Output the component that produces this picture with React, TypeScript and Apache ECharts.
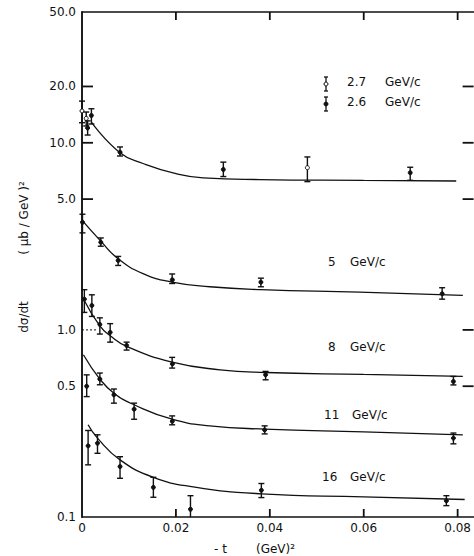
import React, { useEffect, useRef } from "react";
import * as echarts from "echarts";

// ---- axis ticks / labels ----
const xTickValues = [0, 0.02, 0.04, 0.06, 0.08];
const xTickLabels = ["0", "0.02", "0.04", "0.06", "0.08"];
const xInnerTicks = [0.02, 0.04, 0.06, 0.08];
const yTickValues = [0.1, 0.5, 1, 5, 10, 20, 50];
const yTickLabels = ["0.1", "0.5", "1.0", "5.0", "10.0", "20.0", "50.0"];
const yLeftTicks = [5, 10, 20];
const yLeftDottedTicks = [1];
const yRightTicks = [0.5, 1, 5, 10, 20];

// ---- data points: [-t, dσ/dt, low, high] ----
const pts27 = [
  [0, 14.8, 12.8, 16.7],
  [0.0009, 13.5, 12.3, 14.6],
  [0.048, 7.36, 6.2, 8.4],
];
const pts26 = [
  [0.0012, 12.0, 11.0, 13.1],
  [0.002, 14.0, 12.6, 15.2],
  [0.0081, 8.9, 8.5, 9.5],
  [0.0301, 7.2, 6.6, 7.88],
  [0.0699, 6.92, 6.3, 7.4],
];
const pts5 = [
  [0.0001, 3.76, 3.3, 4.15],
  [0.004, 2.94, 2.8, 3.1],
  [0.0077, 2.35, 2.21, 2.47],
  [0.0192, 1.87, 1.77, 1.99],
  [0.0381, 1.8, 1.7, 1.89],
  [0.0767, 1.56, 1.46, 1.68],
];
const pts8 = [
  [0.0005, 1.46, 1.24, 1.64],
  [0.0021, 1.35, 1.18, 1.54],
  [0.0038, 1.07, 0.95, 1.16],
  [0.006, 0.97, 0.86, 1.08],
  [0.0095, 0.826, 0.78, 0.86],
  [0.0192, 0.665, 0.625, 0.713],
  [0.0391, 0.576, 0.541, 0.6],
  [0.0791, 0.53, 0.508, 0.564],
];
const pts11 = [
  [0.001, 0.5, 0.44, 0.575],
  [0.0038, 0.546, 0.509, 0.588],
  [0.0068, 0.45, 0.406, 0.483],
  [0.0111, 0.377, 0.333, 0.406],
  [0.0192, 0.328, 0.311, 0.347],
  [0.0389, 0.292, 0.278, 0.307],
  [0.0791, 0.264, 0.246, 0.281],
];
const pts16 = [
  [0.0013, 0.24, 0.19, 0.29],
  [0.0033, 0.248, 0.219, 0.275],
  [0.0081, 0.186, 0.161, 0.21],
  [0.0152, 0.144, 0.1275, 0.163],
  [0.0231, 0.11, 0.092, 0.13],
  [0.0382, 0.139, 0.127, 0.151],
  [0.0776, 0.122, 0.115, 0.13],
];

// ---- fitted curves: [-t, dσ/dt] ----
const fitLow = [
  [0.002, 12.9], [0.0081, 8.85], [0.013, 7.75], [0.0194, 6.9], [0.0258, 6.5],
  [0.0379, 6.36], [0.06, 6.3], [0.0797, 6.25],
];
const fit5 = [
  [0, 3.86], [0.004, 2.98], [0.0077, 2.4], [0.013, 2.0], [0.0192, 1.8],
  [0.0272, 1.7], [0.0381, 1.64], [0.0591, 1.59], [0.0811, 1.53],
];
const fit8 = [
  [0.0004, 1.45], [0.0038, 1.05], [0.006, 0.93], [0.0095, 0.816], [0.0192, 0.673],
  [0.0294, 0.612], [0.0391, 0.592], [0.06, 0.578], [0.0811, 0.564],
];
const fit11 = [
  [0.0003, 0.736], [0.0038, 0.546], [0.0068, 0.459], [0.0111, 0.398], [0.0192, 0.333],
  [0.0272, 0.307], [0.0389, 0.295], [0.06, 0.285], [0.0811, 0.275],
];
const fit16 = [
  [0.0013, 0.311], [0.0033, 0.264], [0.0081, 0.202], [0.0152, 0.163], [0.0237, 0.145],
  [0.0382, 0.133], [0.06, 0.128], [0.0815, 0.124],
];

const INK = "#111";
const FONT = "DejaVu Sans";

function errRender(open: boolean) {
  return (params: any, api: any) => {
    const x = api.value(0);
    const c = api.coord([x, api.value(1)]);
    const lo = api.coord([x, api.value(2)]);
    const hi = api.coord([x, api.value(3)]);
    const cs = params.coordSys;
    const bottom = cs.y + cs.height;
    const yl = Math.min(lo[1], bottom);
    const cap = 3;
    const ls = { stroke: INK, lineWidth: 1.4 };
    const children: any[] = [
      { type: "line", shape: { x1: c[0], y1: hi[1], x2: c[0], y2: yl }, style: ls },
      { type: "line", shape: { x1: c[0] - cap, y1: hi[1], x2: c[0] + cap, y2: hi[1] }, style: ls },
    ];
    if (lo[1] < bottom) {
      children.push({ type: "line", shape: { x1: c[0] - cap, y1: yl, x2: c[0] + cap, y2: yl }, style: ls });
    }
    children.push({
      type: "circle",
      shape: { cx: c[0], cy: c[1], r: 2 },
      style: { fill: open ? "#fff" : INK, stroke: INK, lineWidth: 1 },
    });
    return { type: "group", children };
  };
}

function errSeries(name: string, data: number[][], open: boolean) {
  return {
    name,
    type: "custom",
    renderItem: errRender(open),
    data,
    encode: { x: 0, y: 1 },
    z: 5,
  };
}

function fitSeries(name: string, data: number[][]) {
  return {
    name,
    type: "line",
    data,
    smooth: 0.5,
    symbol: "none",
    lineStyle: { color: INK, width: 1.3 },
    z: 3,
  };
}

// tick marks drawn through the axis scales (custom series)
function yTickSeries(name: string, values: number[], side: "left" | "right", len: number, dotted = false) {
  return {
    name,
    type: "custom",
    silent: true,
    data: values.map((v) => [0.04, v]),
    encode: { x: 0, y: 1 },
    renderItem: (params: any, api: any) => {
      const cs = params.coordSys;
      const p = api.coord([api.value(0), api.value(1)]);
      const x0 = side === "left" ? cs.x : cs.x + cs.width;
      const x1 = side === "left" ? x0 + len : x0 - len;
      const style: any = { stroke: INK, lineWidth: dotted ? 1 : 1.8 };
      if (dotted) style.lineDash = [2, 2];
      return {
        type: "line",
        shape: { x1: x0, y1: p[1], x2: x1, y2: p[1] },
        style,
      };
    },
    z: 4,
  };
}

function xTickSeries(name: string, values: number[], side: "top" | "bottom", len: number) {
  return {
    name,
    type: "custom",
    silent: true,
    data: values.map((v) => [v, 1]),
    encode: { x: 0, y: 1 },
    renderItem: (params: any, api: any) => {
      const cs = params.coordSys;
      const p = api.coord([api.value(0), api.value(1)]);
      const y0 = side === "top" ? cs.y : cs.y + cs.height;
      const y1 = side === "top" ? y0 + len : y0 - len;
      return {
        type: "line",
        shape: { x1: p[0], y1: y0, x2: p[0], y2: y1 },
        style: { stroke: INK, lineWidth: 1.8 },
      };
    },
    z: 4,
  };
}

function yLabel(v: number) {
  let best = 0;
  let d = Infinity;
  for (let i = 0; i < yTickValues.length; i++) {
    const dd = Math.abs(Math.log10(yTickValues[i]) - Math.log10(v));
    if (dd < d) { d = dd; best = i; }
  }
  return yTickLabels[best];
}

function legendSymbol(x: number, y: number, open: boolean) {
  const ls = { stroke: INK, lineWidth: 1.3 };
  return {
    type: "group",
    children: [
      { type: "line", shape: { x1: x, y1: y - 7, x2: x, y2: y + 7 }, style: ls },
      { type: "line", shape: { x1: x - 2, y1: y - 7, x2: x + 2, y2: y - 7 }, style: ls },
      { type: "line", shape: { x1: x - 2, y1: y + 7, x2: x + 2, y2: y + 7 }, style: ls },
      { type: "circle", shape: { cx: x, cy: y, r: 2 }, style: { fill: open ? "#fff" : INK, stroke: INK, lineWidth: 1 } },
    ],
  };
}

function txt(x: number, y: number, text: string, extra: any = {}) {
  return {
    type: "text",
    x,
    y,
    style: { text, fill: INK, font: `12px "${FONT}"`, textVerticalAlign: "middle", ...extra },
  };
}

export default function App() {
  const ref = useRef<HTMLDivElement>(null);
  useEffect(() => {
    if (!ref.current) return;
    const chart = echarts.init(ref.current, null, { renderer: "svg" });
    const axisLine = { show: true, lineStyle: { color: INK, width: 1.5 } };
    chart.setOption({
      animation: false,
      backgroundColor: "#fff",
      grid: { left: 82, right: 0, top: 12, bottom: 39, containLabel: false },
      xAxis: [
        {
          type: "value",
          min: 0,
          max: 0.0834,
          interval: 0.02,
          position: "bottom",
          axisLine,
          axisTick: { show: false },
          axisLabel: {
            customValues: xTickValues,
            formatter: (v: number) => xTickLabels[Math.round(v / 0.02)],
            color: INK,
            fontFamily: FONT,
            fontSize: 12,
            margin: 5,
          },
          splitLine: { show: false },
        },
        {
          type: "value",
          min: 0,
          max: 0.0834,
          interval: 0.02,
          position: "top",
          axisLine,
          axisTick: { show: false },
          axisLabel: { show: false },
          splitLine: { show: false },
        },
      ],
      yAxis: [
        {
          type: "log",
          logBase: 10,
          min: 0.1,
          max: 50,
          position: "left",
          axisLine,
          axisTick: { show: false },
          axisLabel: {
            customValues: yTickValues,
            formatter: (v: number) => yLabel(v),
            color: INK,
            fontFamily: FONT,
            fontSize: 12,
            margin: 6,
          },
          splitLine: { show: false },
        },
        {
          type: "log",
          logBase: 10,
          min: 0.1,
          max: 50,
          position: "right",
          axisLine,
          axisTick: { show: false },
          axisLabel: { show: false },
          splitLine: { show: false },
        },
      ],
      series: [
        fitSeries("fit 2.6/2.7", fitLow),
        fitSeries("fit 5", fit5),
        fitSeries("fit 8", fit8),
        fitSeries("fit 11", fit11),
        fitSeries("fit 16", fit16),
        errSeries("2.7 GeV/c", pts27, true),
        errSeries("2.6 GeV/c", pts26, false),
        errSeries("5 GeV/c", pts5, false),
        errSeries("8 GeV/c", pts8, false),
        errSeries("11 GeV/c", pts11, false),
        errSeries("16 GeV/c", pts16, false),
        yTickSeries("left ticks", yLeftTicks, "left", 11),
        yTickSeries("left dotted ticks", yLeftDottedTicks, "left", 15, true),
        yTickSeries("right ticks", yRightTicks, "right", 11),
        xTickSeries("bottom ticks", xInnerTicks, "bottom", 8),
        xTickSeries("top ticks", xInnerTicks, "top", 8),
      ],
      graphic: [
        legendSymbol(326, 84, true),
        legendSymbol(326, 104, false),
        txt(347, 82, "2.7"),
        txt(385, 82, "GeV/c"),
        txt(347, 102, "2.6"),
        txt(385, 102, "GeV/c"),
        txt(328, 262, "5"),
        txt(350, 262, "GeV/c"),
        txt(328, 347, "8"),
        txt(350, 347, "GeV/c"),
        txt(324, 415, "11"),
        txt(352, 415, "GeV/c"),
        txt(322, 477, "16"),
        txt(350, 477, "GeV/c"),
        txt(214, 549, "- t"),
        txt(256, 549, "(GeV)²"),
        {
          type: "text",
          x: 24,
          y: 317,
          rotation: Math.PI / 2,
          style: { text: "dσ/dt", fill: INK, font: `12px "${FONT}"`, textAlign: "center", textVerticalAlign: "middle" },
        },
        {
          type: "text",
          x: 24,
          y: 218,
          rotation: Math.PI / 2,
          style: { text: "( μb / GeV )²", fill: INK, font: `12px "${FONT}"`, textAlign: "center", textVerticalAlign: "middle" },
        },
      ],
    });
    return () => chart.dispose();
  }, []);
  return (
    <div
      ref={ref}
      style={{ position: "fixed", left: 0, top: 0, width: 474, height: 556, background: "#fff" }}
    />
  );
}
